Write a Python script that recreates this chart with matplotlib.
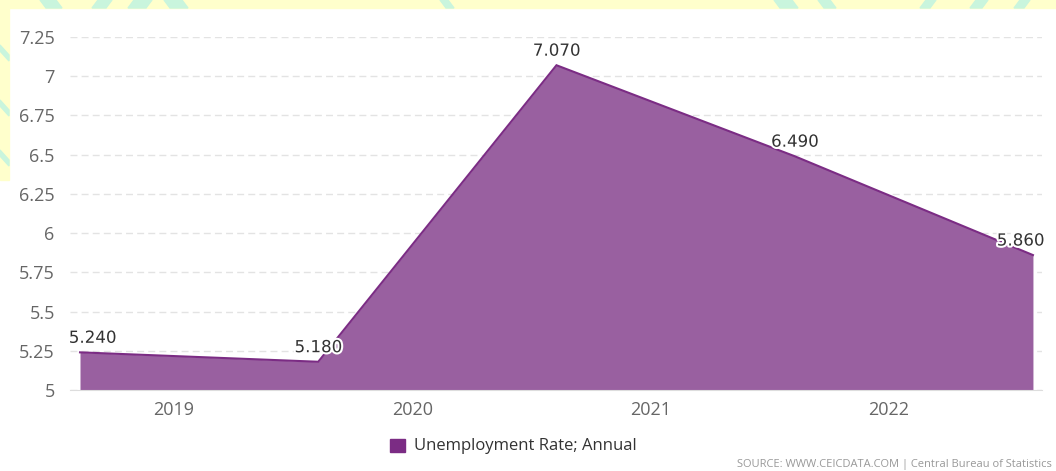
import numpy as np
import matplotlib.pyplot as plt
import matplotlib.patheffects as pe
from matplotlib.patches import Rectangle, Polygon

# Indonesia unemployment rate, annual (Aug readings)
years = [2018, 2019, 2020, 2021, 2022]
values = [5.24, 5.18, 7.07, 6.49, 5.86]
value_labels = ["5.240", "5.180", "7.070", "6.490", "5.860"]
tick_years = [2019, 2020, 2021, 2022]
y_ticks = [5, 5.25, 5.5, 5.75, 6, 6.25, 6.5, 6.75, 7, 7.25]
y_tick_labels = ["5", "5.25", "5.5", "5.75", "6", "6.25", "6.5", "6.75", "7", "7.25"]

LINE = "#7b2c84"
FILL = "#9960a0"
GRID = "#e3e3e3"
TXT = "#666666"

plt.rcParams['font.family'] = ['Open Sans', 'DejaVu Sans']

W, H = 1056, 471
fig = plt.figure(figsize=(W / 100, H / 100), dpi=100)
fig.patch.set_facecolor("white")

# background watermark strip (yellow with mint stripes)
fig.patches.append(Rectangle((0, 1 - 8 / H), 1, 8 / H, transform=fig.transFigure,
                             color="#ffffcc", zorder=-10))
fig.patches.append(Rectangle((0, 1 - 180 / H), 9 / W, 180 / H, transform=fig.transFigure,
                             color="#ffffcc", zorder=-10))
stripes = [(40, 16, 1), (98, 14, -1), (134, 18, -1), (164, 18, 1), (440, 8, 1),
           (774, 18, 1), (818, 12, 1), (926, 10, -1), (976, 12, -1), (1020, 10, -1)]
for x0, w, d in stripes:
    pts = [(x0, 0), (x0 + w, 0), (x0 + w + 6 * d, 8), (x0 + 6 * d, 8)]
    fig.patches.append(Polygon([(px / W, 1 - py / H) for px, py in pts],
                               transform=fig.transFigure, color="#c9f5dd", zorder=-9))
for y0 in [45, 100, 150]:
    pts = [(0, y0), (0, y0 + 6), (9, y0 + 16), (9, y0 + 10)]
    fig.patches.append(Polygon([(px / W, 1 - py / H) for px, py in pts],
                               transform=fig.transFigure, color="#c9f5dd", zorder=-9))

left, right = 70 / W, 1042 / W
bottom, top = 1 - 390 / H, 1 - 37 / H
ax = fig.add_axes([left, bottom, right - left, top - bottom])
ax.set_facecolor("none")

x = np.array(years) + 0.605
ax.fill_between(x, values, 5, color=FILL, lw=0, zorder=2)
ax.plot(x, values, color=LINE, lw=1.5, zorder=3, solid_joinstyle="miter")

ax.set_xlim(2018.563, 2022.643)
ax.set_ylim(5, 7.25)

ax.set_yticks(y_ticks)
ax.set_yticklabels(y_tick_labels)
ax.set_xticks(tick_years)
ax.set_xticklabels([str(t) for t in tick_years])
ax.tick_params(axis="y", length=0, pad=11, labelsize=13, labelcolor=TXT)
ax.tick_params(axis="x", length=0, pad=8, labelsize=13, labelcolor=TXT)
for yv in y_ticks:
    ax.axhline(yv, color=GRID, lw=1, ls=(0, (5, 3)), zorder=1)
for s in ["top", "right", "left"]:
    ax.spines[s].set_visible(False)
ax.spines["bottom"].set_color("#dddddd")
ax.spines["bottom"].set_zorder(4)

offsets = [(9, 0), (0, 0), (0, 0), (0, 0), (-9, 0)]
for xi, yi, lab, (dx, dy) in zip(x, values, value_labels, offsets):
    ax.annotate(lab, (xi, yi), xytext=(dx, 4), textcoords="offset points",
                ha="center", va="bottom", fontsize=12, color="#333333",
                family="DejaVu Sans", zorder=5, annotation_clip=False,
                path_effects=[pe.withStroke(linewidth=3, foreground="white")])

# legend
fig.patches.append(Rectangle((390 / W, 1 - 452 / H), 15 / W, 13 / H,
                             transform=fig.transFigure, color=LINE))
fig.text(414 / W, 1 - 446 / H, "Unemployment Rate; Annual", fontsize=12,
         color="#333333", va="center", ha="left")

fig.text(1052 / W, 1 - 465 / H, "SOURCE: WWW.CEICDATA.COM | Central Bureau of Statistics",
         fontsize=8, color="#999999", ha="right", va="center")

fig.savefig("out.png", dpi=100)
